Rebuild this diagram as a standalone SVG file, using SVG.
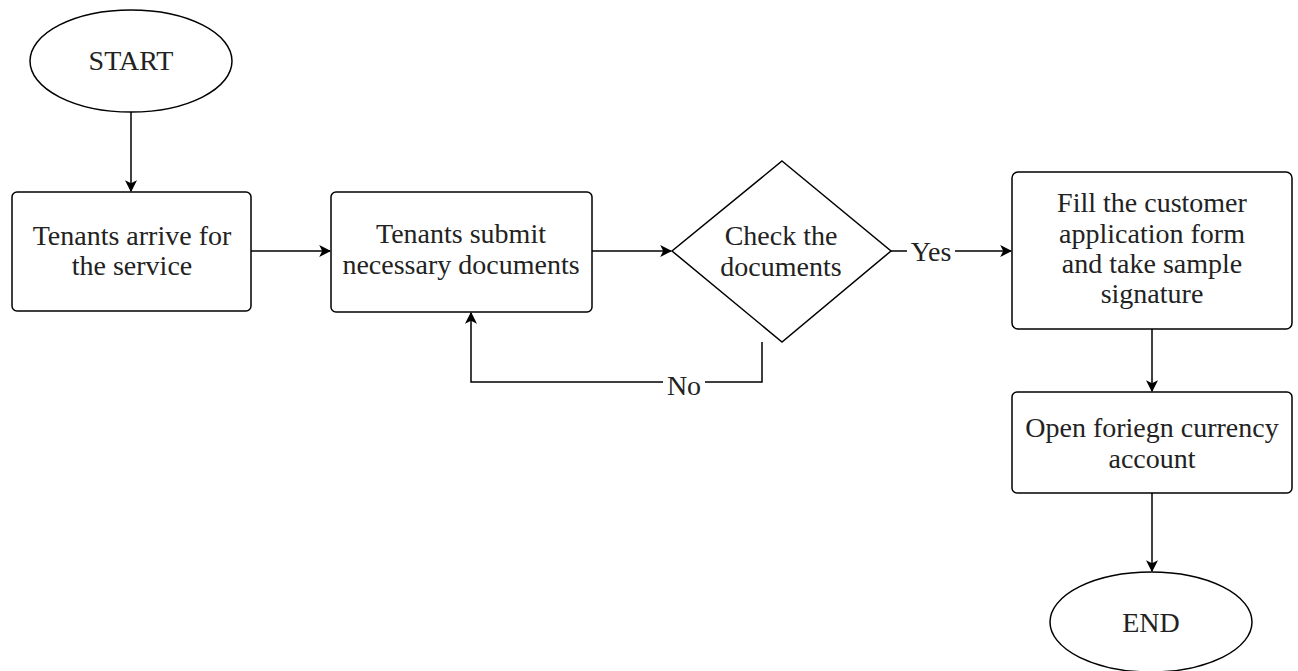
<svg xmlns="http://www.w3.org/2000/svg" width="1298" height="671" viewBox="0 0 1298 671">
  <style>
    .shape { fill: #ffffff; stroke: #000000; stroke-width: 1.5; }
    .label { font-family: "Liberation Serif", "Times New Roman", serif; font-size: 28px; fill: #222222; text-anchor: middle; }
    .edge { fill: none; stroke: #000000; stroke-width: 1.5; }
    .tag { fill: #ffffff; }
  </style>
  <defs>
    <marker id="arrow" viewBox="0 0 10 10" refX="9" refY="5" markerWidth="12" markerHeight="12" markerUnits="userSpaceOnUse" orient="auto">
      <path d="M0,0 L10,5 L0,10 L2.5,5 Z" fill="#000000"/>
    </marker>
  </defs>
  <rect width="1298" height="671" fill="#ffffff"/>

  <g id="connectors">
    <path class="edge" d="M131,112 L131,191" marker-end="url(#arrow)"/>
    <path class="edge" d="M251,251 L330,251" marker-end="url(#arrow)"/>
    <path class="edge" d="M592,251 L671,251" marker-end="url(#arrow)"/>
    <path class="edge" d="M891,251 L1011,251" marker-end="url(#arrow)"/>
    <path class="edge" d="M762,342 L762,382 L471,382 L471,313" marker-end="url(#arrow)"/>
    <path class="edge" d="M1152,329 L1152,391" marker-end="url(#arrow)"/>
    <path class="edge" d="M1152,493 L1152,571" marker-end="url(#arrow)"/>
    <rect class="tag" x="907" y="238" width="48" height="26"/>
    <text class="label" x="931" y="261">Yes</text>
    <rect class="tag" x="663" y="370" width="42" height="26"/>
    <text class="label" x="684" y="395">No</text>
  </g>

  <g id="start">
    <ellipse class="shape" cx="131" cy="61" rx="101" ry="51"/>
    <text class="label" x="131" y="70">START</text>
  </g>

  <g id="arrive">
    <rect class="shape" x="12" y="192" width="239" height="119" rx="5"/>
    <text class="label" x="132" y="245">Tenants arrive for</text>
    <text class="label" x="132" y="275">the service</text>
  </g>

  <g id="submit">
    <rect class="shape" x="331" y="192" width="261" height="120" rx="5"/>
    <text class="label" x="461" y="243">Tenants submit</text>
    <text class="label" x="461" y="274">necessary documents</text>
  </g>

  <g id="check">
    <polygon class="shape" points="782,161 891,251 782,342 672,251"/>
    <text class="label" x="781" y="245">Check the</text>
    <text class="label" x="781" y="276">documents</text>
  </g>

  <g id="fill-form">
    <rect class="shape" x="1012" y="172" width="280" height="157" rx="6"/>
    <text class="label" x="1152" y="212">Fill the customer</text>
    <text class="label" x="1152" y="243">application form</text>
    <text class="label" x="1152" y="273">and take sample</text>
    <text class="label" x="1152" y="303">signature</text>
  </g>

  <g id="open-account">
    <rect class="shape" x="1012" y="392" width="280" height="101" rx="5"/>
    <text class="label" x="1152" y="437">Open foriegn currency</text>
    <text class="label" x="1152" y="468">account</text>
  </g>

  <g id="end">
    <ellipse class="shape" cx="1151" cy="622" rx="101" ry="50"/>
    <text class="label" x="1151" y="632">END</text>
  </g>
</svg>
